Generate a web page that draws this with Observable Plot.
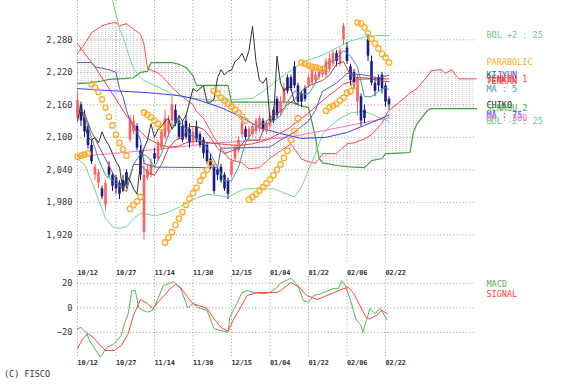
<!DOCTYPE html>
<html><head><meta charset="utf-8">
<script src="https://cdn.jsdelivr.net/npm/d3@7"></script>
<script src="https://cdn.jsdelivr.net/npm/@observablehq/plot@0.6"></script>
<style>
html,body{margin:0;padding:0;background:#fff;}
#wrap{position:relative;width:562px;height:384px;overflow:hidden;font-family:"DejaVu Sans Mono",monospace;}
#main{position:absolute;left:0;top:0;}
#macd{position:absolute;left:0;top:262px;}
#copy{position:absolute;left:4px;top:369px;font-size:8.5px;color:#333;}
</style></head><body>
<div id="wrap"><div id="main"></div><div id="macd"></div><div id="copy">(C) FISCO</div></div>
<script>
// ---------- axis labels ----------
const dateLabels = ["10/12","10/27","11/14","11/30","12/15","01/04","01/22","02/06","02/22"];
const dateDays = [0,11,22,33,44,55,66,77,88];
const priceTicks = [1920,1980,2040,2100,2160,2220,2280];
const macdTicks = [-20,0,20];

// ---------- candles (trading day index 0..89) ----------
const open  = [2135,2160,2135,2120,2085,2030,2015,2005,1975,2045,2030,2025,2015,2020,2035,2095,2110,2120,2075,1925,2025,2030,2070,2060,2080,2100,2110,2130,2150,2130,2120,2130,2115,2090,2120,2105,2095,2085,2060,2045,2040,2045,2030,2020,2030,2060,2075,2105,2115,2100,2105,2110,2115,2130,2110,2120,2150,2170,2145,2165,2210,2210,2230,2195,2180,2190,2195,2200,2205,2210,2215,2215,2225,2235,2255,2235,2280,2265,2230,2220,2165,2175,2150,2280,2240,2200,2210,2215,2195,2170];
const high  = [2185,2165,2150,2125,2095,2050,2040,2010,2020,2055,2035,2030,2020,2030,2040,2140,2140,2125,2085,2060,2050,2060,2080,2095,2115,2150,2140,2175,2160,2140,2130,2140,2125,2120,2130,2110,2100,2090,2070,2050,2045,2050,2035,2025,2060,2085,2100,2135,2120,2120,2125,2135,2140,2135,2130,2145,2155,2175,2175,2200,2215,2215,2240,2200,2185,2195,2215,2228,2220,2226,2226,2245,2255,2260,2260,2265,2310,2275,2235,2225,2215,2180,2160,2290,2250,2210,2215,2220,2200,2175];
const low   = [2130,2120,2100,2078,2050,2020,2005,1985,1965,2025,2000,1995,1985,2000,2005,2090,2105,2075,2020,1910,2020,2025,2050,2055,2075,2095,2100,2120,2120,2095,2090,2095,2080,2085,2090,2080,2060,2050,2040,1995,2020,2015,2000,1985,2025,2055,2070,2100,2095,2095,2100,2105,2110,2110,2105,2115,2125,2135,2140,2160,2180,2185,2190,2160,2155,2165,2190,2195,2200,2205,2210,2210,2220,2230,2230,2230,2270,2235,2195,2190,2140,2120,2125,2240,2195,2175,2185,2180,2155,2150];
const close = [2168,2130,2110,2085,2055,2045,2035,1990,2015,2030,2010,2005,1995,2005,2010,2135,2130,2080,2030,2030,2040,2050,2060,2090,2110,2135,2130,2160,2125,2100,2095,2100,2090,2110,2095,2085,2070,2055,2045,2000,2030,2020,2005,1995,2055,2080,2095,2125,2100,2115,2120,2130,2135,2115,2125,2140,2130,2140,2165,2190,2185,2190,2195,2165,2165,2170,2210,2225,2215,2222,2224,2240,2245,2255,2240,2260,2305,2240,2205,2200,2210,2130,2135,2250,2200,2185,2195,2190,2165,2160];

// ---------- parabolic SAR ----------
const sar = [2064,2066,2068,2070,2198,2192,2184,2170,2155,2138,2122,2105,2090,2078,2066,1968,1975,1982,1990,2146,2142,2137,2131,2125,2118,1906,1915,1925,1938,1950,1962,1975,1987,1997,2007,2020,2030,2040,2052,2186,2181,2173,2168,2162,2157,2151,2145,2138,2131,1985,1990,1995,2002,2008,2015,2022,2030,2040,2050,2062,2075,2095,2112,2135,2238,2236,2233,2230,2229,2227,2226,2149,2155,2158,2162,2168,2173,2182,2185,2195,2312,2310,2303,2292,2282,2273,2264,2254,2247,2238];

// ---------- moving averages ----------
const ma5Days = [0,2,4,6,8,10,12,14,16,18,20,22,24,26,28,30,32,34,36,38,40,42,44,46,48,50,52,54,56,58,60,62,64,66,68,70,72,74,76,78,80,82,84,86,88,89];
const ma5     = [2160,2140,2100,2060,2030,2020,2010,2010,2050,2070,2065,2045,2070,2105,2130,2125,2105,2098,2090,2070,2045,2020,2020,2045,2090,2110,2125,2125,2130,2140,2165,2185,2180,2180,2200,2230,2238,2245,2260,2250,2230,2175,2175,2185,2192,2188];
const ma25Days = [0,2,5,8,10,12,14,16,18,20,23,26,29,31,34,38,42,46,50,54,58,60,63,66,69,72,76,80,84,89];
const ma25     = [2273,2255,2230,2200,2180,2160,2140,2125,2110,2098,2088,2082,2084,2090,2093,2090,2087,2085,2088,2095,2108,2115,2130,2145,2162,2178,2198,2207,2208,2208];
const ma75Days = [0,7,16,21,29,33,35,41,47,52,58,64,71,77,82,89];
const ma75     = [2190,2187,2184,2182,2177,2172,2168,2155,2137,2118,2107,2098,2100,2109,2122,2141];
const ma200Days = [0,10,20,30,40,50,60,70,80,89];
const ma200     = [2065,2070,2076,2083,2090,2094,2100,2112,2125,2136];

// ---------- bollinger ----------
const bolUpDays = [0,5,8,9,10,11,12,13,14,15,16,17,18,19,21,24,27,30,33,36,40,45,50,53,56,58,62,65,70,75,78,82,86,89];
const bolUp     = [2480,2440,2400,2380,2353,2327,2300,2285,2265,2245,2228,2218,2210,2205,2199,2190,2180,2175,2172,2170,2168,2170,2172,2185,2200,2210,2228,2240,2252,2268,2278,2285,2288,2288];
const bolLoDays = [0,2,4,6,8,10,12,14,16,18,20,22,24,26,28,31,34,37,41,43,46,48,52,56,60,62,64,66,68,70,72,75,78,82,85,88,89];
const bolLo     = [2060,2050,2020,1985,1950,1935,1932,1935,1950,1960,1958,1955,1958,1962,1968,1978,1988,1995,1992,1989,2000,2005,2005,2005,1995,1990,2008,2040,2070,2105,2120,2135,2145,2148,2140,2132,2129];

// ---------- ichimoku ----------
const tenkanDays = [0,2,4,6,8,10,12,14,16,18,20,22,24,26,28,30,32,34,36,38,40,42,44,46,48,50,52,54,56,58,60,62,64,66,68,70,72,74,76,78,80,82,84,86,88,89];
const tenkan     = [2150,2145,2110,2085,2060,2035,2010,2000,2050,2050,2035,2030,2050,2080,2095,2100,2120,2120,2115,2100,2080,2070,2075,2080,2095,2095,2095,2130,2140,2148,2160,2170,2185,2195,2200,2205,2215,2235,2240,2215,2210,2210,2208,2205,2203,2203];
const kijunDays = [0,4,5,9,11,12,13,14,15,17,18,19,22,38,40,41,55,58,62,66,68,70,74,77,82,86,89];
const kijun     = [2238,2238,2230,2225,2220,2190,2175,2150,2130,2110,2095,2052,2045,2044,2044,2080,2082,2095,2110,2130,2150,2185,2200,2218,2215,2210,2215];
const senkouDays = [0,2,4,7,9,11,12,14,16,18,19,20,21,23,25,27,29,31,33,34,36,39,43,44,47,49,52,55,58,61,64,66,68,69,70,74,77,79,82,84,87,88,89,92,95,96,97,100,101,104,105,107,108,109,114];
const senkou1    = [2255,2272,2293,2306,2310,2312,2306,2310,2300,2290,2272,2227,2224,2219,2207,2192,2180,2170,2160,2148,2135,2100,2062,2058,2053,2042,2044,2062,2075,2088,2060,2055,2052,2060,2070,2070,2088,2090,2097,2105,2126,2140,2150,2165,2182,2186,2190,2213,2223,2225,2218,2225,2215,2208,2208];
const senkou2    = [2199,2200,2201,2204,2207,2208,2208,2209,2210,2220,2221,2222,2238,2238,2238,2238,2235,2229,2214,2196,2196,2196,2196,2165,2165,2165,2165,2165,2165,2165,2158,2155,2100,2062,2053,2048,2046,2045,2044,2057,2061,2070,2070,2071,2072,2110,2125,2150,2153,2153,2153,2153,2153,2153,2153];

// ---------- MACD ----------
const macdDays = [0,1,2.5,3.5,6.5,8.5,10.5,12.5,13.5,14.5,15.5,16.5,17.5,18.5,20,21.5,23,24.5,26.5,27.5,29.5,31.5,33,34.5,37,39,41,43,43.5,45.5,47,48.5,50.5,53,55,57,58,61,63,64.5,66,67.5,69.5,73,74.5,75.5,76.5,78,79.5,81,81.5,83,83.5,85,86.5,88.5];
const macd     = [-17,-16,-20,-27,-40,-32,-29,-22.5,-12,-4.7,14,14,0,-2,-3.5,-2,7.5,18,20,21.4,15.6,0,3.5,0,-2,-17,-18.5,-20,-8,3.4,12.5,14,12.5,11.4,12.5,16.5,20,24,18,6,4.5,10,11.4,15.6,15.6,22,18,6,-9,-14.5,-20,-6,-0.5,-4.7,-0.5,-10];
const sigDays = [0,1.5,3,4.5,6.5,8,10.5,12.5,14.5,16,18,20,21.5,23.5,26.5,28,29.5,31.5,33,37,39,41,43,44.5,46.5,48.5,51.5,54.5,57,58,61,63.5,65.5,68.5,72.5,76,77.5,79,81,82.5,83.5,85.5,87,88.5];
const signal  = [-33,-25,-21,-24,-30.6,-34.7,-34.7,-30.6,-21,-6,6.7,3.4,-0.5,6,15.6,19,16.5,8.4,3.4,-0.5,-9,-16,-19,-10,0,10,12.5,12.5,12.5,14,20.6,16.5,10,6.7,11.4,15.6,16.5,11.4,0,-8,-9,-6,-2,-4.7];

// ---------- build tables ----------
const pts = (days, vals) => days.map((d, k) => ({d, v: vals[k]}));
const candles = close.map((c, i) => ({i, o: open[i], h: high[i], l: low[i], c}));
const ups = candles.filter(d => d.c >= d.o), downs = candles.filter(d => d.c < d.o);
const sarPts = sar.map((v, i) => ({d: i, v}));
const chiko = close.map((v, i) => ({d: i - 26, v})).filter(p => p.d >= 0);
const senk = senkouDays.map((d, k) => ({d, s1: senkou1[k], s2: senkou2[k]}));
const last = a => a[a.length - 1];

const UP = "#ff5e5e", DN = "#1a1a8a";
const C = {bol:"#6fd98c", s1:"#ff4a4a", s2:"#3f9f3f", ma200:"#ff6fc8", ma75:"#3c3cff", ma25:"#ff3a3a",
           kijun:"#5c5cb4", tenkan:"#a84a4a", ma5:"#3a9c9c", chiko:"#333333", sar:"#ffaa22"};
const dotted = {stroke:"#9a9a9a", strokeDasharray:"1,2.3", strokeWidth:1};
const FONT = "DejaVu Sans Mono, monospace";

const legend = [
  {t:"BOL +2 : 25", v:last(bolUp), c:"#5fcf7a"},
  {t:"PARABOLIC", v:last(sar), c:"#ffaa22"},
  {t:"KIJYUN", v:last(kijun), c:"#4444c8"},
  {t:"SENKOU 1", v:last(senkou1), c:"#ff3b3b"},
  {t:"TENKAN", v:last(tenkan), c:"#e83030"},
  {t:"MA : 5", v:last(ma5), c:"#3a9c9c"},
  {t:"CHIKO", v:last(close), c:"#222222"},
  {t:"SENKOU 2", v:last(senkou2), c:"#44aa44"},
  {t:"MA : 75", v:last(ma75), c:"#3c3cff"},
  {t:"MA : 200", v:last(ma200), c:"#ff6fc8"},
  {t:"BOL -2 : 25", v:last(bolLo), c:"#5fcf7a"}
];

const ln = (days, vals, color, extra = {}) => Plot.line(pts(days, vals), {x:"d", y:"v", stroke:color, strokeWidth:1, ...extra});

const main = Plot.plot({
  width: 562, height: 262, marginLeft: 77, marginRight: 86, marginTop: 0, marginBottom: 0,
  style: {fontFamily: FONT, fontSize: "8.7px", background: "white", overflow: "visible"},
  x: {domain: [0, 114], axis: null},
  y: {domain: [1869, 2352.6], label: null},
  marks: [
    Plot.areaY(senk, {x:"d", y1:"s1", y2:"s2", fill:"url(#hatch)"}),
    Plot.ruleY(priceTicks, dotted),
    Plot.ruleX(dateDays, dotted),
    Plot.axisY(priceTicks, {tickSize:0, tickPadding:5, tickFormat:d3.format(","), fontSize:8.7, fill:"#333", fontFamily:FONT}),
    Plot.line(senk, {x:"d", y:"s1", stroke:C.s1, strokeWidth:1}),
    Plot.line(senk, {x:"d", y:"s2", stroke:C.s2, strokeWidth:1.2}),
    ln(bolUpDays, bolUp, C.bol, {clip:true}),
    ln(bolLoDays, bolLo, C.bol),
    ln(ma200Days, ma200, C.ma200),
    ln(ma75Days, ma75, C.ma75),
    ln(ma25Days, ma25, C.ma25),
    Plot.ruleX(ups, {x:"i", y1:"l", y2:"h", stroke:UP, strokeWidth:1}),
    Plot.ruleX(downs, {x:"i", y1:"l", y2:"h", stroke:DN, strokeWidth:1}),
    Plot.ruleX(ups, {x:"i", y1:"o", y2:"c", stroke:UP, strokeWidth:2.6}),
    Plot.ruleX(downs, {x:"i", y1:"o", y2:"c", stroke:DN, strokeWidth:2.6}),
    ln(kijunDays, kijun, C.kijun),
    ln(tenkanDays, tenkan, C.tenkan),
    ln(ma5Days, ma5, C.ma5),
    Plot.line(chiko, {x:"d", y:"v", stroke:C.chiko, strokeWidth:1}),
    Plot.dot(sarPts, {x:"d", y:"v", r:2.7, stroke:C.sar, strokeWidth:1.3, fill:"none"}),
    Plot.text(legend, {x:() => 114, y:"v", text:"t", fill:"c", dx:10, textAnchor:"start", lineAnchor:"middle", fontSize:8.5, fontFamily:FONT})
  ]
});
d3.select(main).insert("defs", ":first-child").html(
  '<pattern id="hatch" patternUnits="userSpaceOnUse" width="3.5" height="2"><rect x="0" y="0" width="1" height="1" fill="#c4c4c4"/></pattern>');
document.getElementById("main").appendChild(main);

const fmtDate = d => dateLabels[dateDays.indexOf(d)];
const macdPlot = Plot.plot({
  width: 562, height: 110, marginLeft: 77, marginRight: 86, marginTop: 14, marginBottom: 14,
  style: {fontFamily: FONT, fontSize: "8.7px", background: "transparent", overflow: "visible"},
  x: {domain: [0, 114]},
  y: {domain: [-41.2, 25.45], label: null},
  marks: [
    Plot.ruleY(macdTicks, dotted),
    Plot.ruleX(dateDays, dotted),
    Plot.axisY(macdTicks, {tickSize:0, tickPadding:5, fontSize:8.7, fill:"#333", fontFamily:FONT}),
    Plot.axisX(dateDays, {anchor:"top", tickSize:0, tickPadding:2, tickFormat:fmtDate, textAnchor:"start", fontSize:6.8, fontWeight:"bold", fill:"#333", fontFamily:FONT, label:null}),
    Plot.axisX(dateDays, {anchor:"bottom", tickSize:0, tickPadding:2, tickFormat:fmtDate, textAnchor:"start", fontSize:6.8, fontWeight:"bold", fill:"#333", fontFamily:FONT, label:null}),
    ln(macdDays, macd, "#55b455"),
    ln(sigDays, signal, "#ff4040"),
    Plot.text(["MACD"], {frameAnchor:"top-right", dx:10, dy:8, textAnchor:"start", lineAnchor:"middle", fill:"#55b455", fontSize:8.5, fontFamily:FONT}),
    Plot.text(["SIGNAL"], {frameAnchor:"top-right", dx:10, dy:18, textAnchor:"start", lineAnchor:"middle", fill:"#ff4040", fontSize:8.5, fontFamily:FONT})
  ]
});
document.getElementById("macd").appendChild(macdPlot);
</script>
</body></html>
